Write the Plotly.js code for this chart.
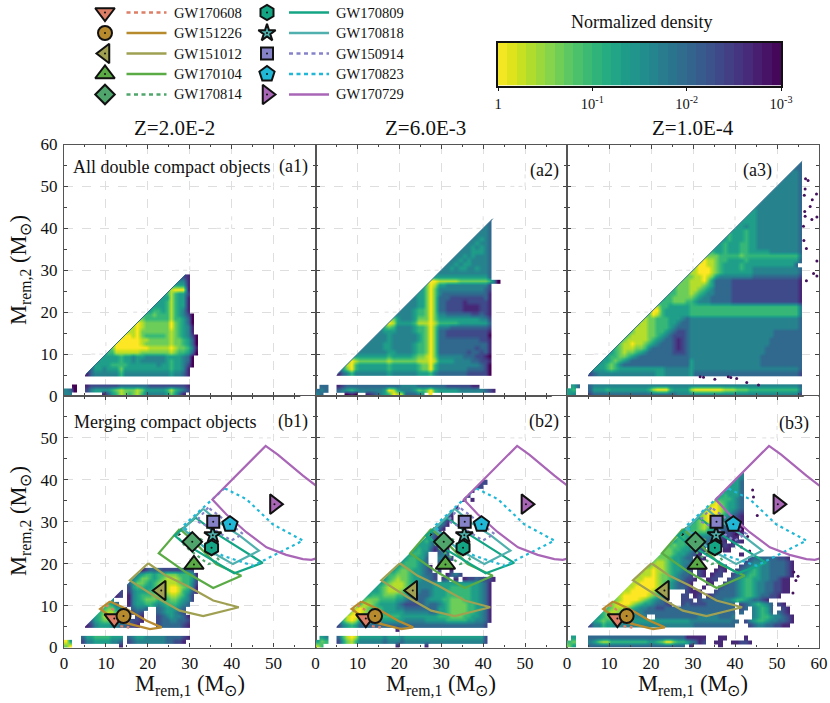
<!DOCTYPE html>
<html>
<head>
<meta charset="utf-8">
<script src="https://cdn.plot.ly/plotly-3.0.1.min.js"></script>
<style>html,body{margin:0;padding:0;background:#fff}</style>
</head>
<body>
<div id="chart" style="width:830px;height:703px"></div>
<script>
// density maps, top row first. each cell is 1 Msun wide, digit 0 (1e-3) .. 9 (1)
// "start:digits" per run, d{n} repeats a digit
const a1Rows = [
"27:121","26:4441","25:55551","24:689991","23:5686552","22:55586551","21:555686551","20:5555686551",
"19:55665686541","18:6667666865420","17:77666666866530","16:898777777976530","15:8898777777976541",
"14:88897777777876541","13:8998976666678765420","12:89999988777778776530","11:799999987777778776530",
"10:6799999999888889877641","9:56688888877777778766530","8:55555655455444445555430","7:455555655454444445655430",
"6:3555566665555555455655420","5:1355455575555555555565541","5:1344444464444444444454431","","",
"2:0 5:1222222233333332222222221","0:43 2:0 5:2455556787778755555686542","0:44 9:13568767864444457531"
];
const a2Rows = [
"41:1","40:33","39:343","38:4443","37:44443","36:444543","35:4445443","34:44454543","33:444455543",
"32:4445454443","31:44454544443","30:444545544443","29:4445455445443","28:54444444444443","26:5755555555555553",
"25:5899888887777777640","24:457985544444444442","23:4557974444444444432","22:45557974333333333331",
"21:444557973332222222231","20:4444557973322221222221","19:44444557973322221111221","18:444445667973322221111221",
"17:5544445667974433333322321","16:78754445777975555555555442","15:689855556888986666655555553",
"14:4567644445667974443333333332","13:44455544445667973322222222221","12:444445444444567973322222222220",
"11:4444445444444567973333333333221","10:44444455444445667973333333333331","9:444444455444445667973333333332331",
"8:4444444445544445667973333333233231","7:46555555556555556778974444443332210","6:479877777778777777888985555444433221",
"5:3589655555556555555677964444444444320","5:2579655555556555555677964444444333320","5:1346444444445444444555643333333222220","","",
"1:33 5:1233333333333334444333333322222211","0:3 1:43 5:34565444444598544457679655555444444321","0:4 1:3 7:010 12:123456988 21:33345 27:9"
];
const a3Rows = [
"54:33","53:333","52:3443","51:34443","50:444443","49:4{6}3","48:4{7}3","47:4{8}3","46:4{9}3","45:4{10}3","44:4{11}3",
"43:554{10}3","42:5554{10}3","41:55554{10}3","40:55555 45:4{10}3","39:555455 45:4{10}3","38:6555655 45:4{10}3",
"37:56555655 45:4{10}3","36:556555655 45:4{10}3","35:5565556655 45:4{10}3","34:55565556655 45:4{10}3",
"33:6655655566555{3}4{7}3","32:87776666676{13}4","31:89887665555655{11}3","30:89988765555655{11}3",
"29:7899987655556554{11}3","28:78899987655555554{11}3","27:77788987 35:54{8}3{11}2","26:777888975 35:3{4}2{16}1",
"25:6777888765 35:3{4}2{16}1","24:66777887654 35:3{4}2{16}1","23:666777876544 35:3{4}2{16}1","22:5667777765443 35:3{4}2{16}1",
"21:56667776654443 35:3{4}2{16}1","20:9866 24:5{5}6{26}4","19:79965{6}6{26}4","18:77986 23:5{6}6{26}4",
"17:787766655543 29:4{26}3","16:7887766655433 29:4{26}3","15:78887766654333 29:4{26}3","14:678887766543223 29:4{20}3{7}",
"13:6788887765432223 29:4{20}3{7}","12:67888887654332123 29:4{19}3{8}","11:678898876543332123 29:4{19}3{8}",
"10:5678887764333332123 29:4{18}3{9}","9:55678776543333332223 29:4{18}3{9}","8:556677654 17:3{12}4{17}3{10}",
"7:455676543 16:3{13}54{16}3{10}","6:4556764 13:3{16}54{16}3{10}","5:355567655 14:5{9}4{6}54{25}3",
"5:234{14}5{2}4{6}53{25}2","","","1:53 5:34{49}3",
"0:56 5:3555655555555568999655555 29:8999999988877 42:76{12}4","0:54 5:23{20}4{4} 30:4{25}2"
];
const b1Rows = [
"18:1233322222332","16:3456656677766651","15:34577656788876652","15:35776567888876642","15:25665567789987641",
"12:12 15:24555667789986531","12:12 15:1456667777887642","10:44 15:1456777666776542","9:5653 15:145566545666543",
"8:5677542 16:3443 22:3455543","7:56788653 16:232 22:3455432","6:4568876542 17:21 22:23454431",
"5:23567766543221 22:23344332","5:1245554433221 22:23333321","","",
"4:3556666555 15:345544444333321","0:95 4:2445555443 15:23444444433221","0:79 13:1"
];
const b2Rows = [
"38:122","37:122","36:21","35:12","34:21 37:1","33:2","32:21","31:32","30:431","29:4321","28:4431","27:5431","26:5531",
"25:55421 30:1","24:556421 30:21","23:5555421 29:231","22:5565531 29:341","21:556654 29:343","20:4566553 29:4432",
"19:45666543 29:343","18:5566665431 29:32","17:55677655432 29:2 32:1","16:5667776554332 31:1 32:342",
"15:55678776554432 30:23 33:1 35:12232221","14:5567888765444455555555555431","13:55678888765444455556666655431",
"12:555678887654433455566666655431","11:5566677766544333455566666655431","10:56777666655433334555667776655431",
"9:568876555543222234334567777665431","8:5898766655544333333335567777665531","7:58998766655555444444335567777665431",
"6:489986666666665555555556667776655431","5:368985{11}4{5}5{5}6{5}554431","5:245653{30}2","19:1","",
"1:54 5:368985{6}45{3}45{19}2","0:576 5:257864{6}34{3}34{19}2","0:86 19:1 26:1"
];
const b3Rows = [
"40:34","39:354","38:4553","37:45553","36:455553","35:5565553","34:65666543","33:789765543","32:8899865543","31:78999865432",
"30:678999754321","29:5678987543321","28:56678865433221","27:556678654332210","26:5566766543322111","25:6665554443322211",
"24:65665554433221 39:121","23:767665544332 36:121 39:2","22:77766554332 34:21 37:11","21:67776554321 33:1 41:1",
"20:6777655433 31:21 43:2333333221","19:678876554432 42:234444333321","18:77888765543221 36:11 41:2345544333321",
"17:7889887655432 31:21 35:121 40:23456544333321","16:78889877654332 31:21 34:122 39:234566544333321",
"15:7889998776543221 33:122 38:234566554433211","14:7889999876543221 33:11 37:2334566544332211",
"13:78899999876543321 32:1 36:23334566544332211","12:788999998765 28:211 31:1 35:233334566544332211",
"11:7899999987654 27:22 30:12 33:123333345665433221","10:67899998765432 27:222 31:23333344566543321",
"9:6789998765543321 27:2322223333333 41:23456543 50:21","8:5678887654433 21:2{2}3{17} 41:23 44:45653 51:21",
"7:56788765444333 21:3{19} 41:3 44:45653 50:321","6:4567876555444 21:3{10}4{5} 36:3334 44:456654 50:4321",
"5:35676665555555 19:5{10}4{5} 34:4444433 42:2 43:45665443321","5:2446554444444 18:4{12} 30:3{10} 43:2344332211","","",
"1:5 5:3{23} 28:1{5} 36:11 42:1","0:67 5:4578866666666655679976654 30:3 31:12 35:11 39:11221","0:75 5:3{23} 29:1 36:1"
];

const a3DotsX = [56.7,56.5,59.4,58.4,57.9,56.7,58.3,59.5,56.3,57,59.5,58.7,59.5,57,56.4,56.8,57.4,56.6,31.7,35.2,38.4,40.4,42.8,45.6,32.5,39];
const a3DotsY = [49.4,47.9,48.2,46.8,45.2,42.9,42.1,42.7,40.5,35.2,32.2,29.2,28.6,27.5,37.1,51.8,51.4,44,4.6,4,4.6,4.2,3.2,2.6,4.5,4.4];
const b3DotsX = [44.2,44.4,45.3,40.3,43,54,54.5,55,53.8,41.5,43.5];
const b3DotsY = [37.6,35.9,31.5,27,26.5,18,16,17,13,24,23];
const mergerSpecksX = [27.4,28.2];
const mergerSpecksY = [27,28.2];
const diagEndsTop = [29, 42.3, 56];

const panelLabels = ['(a1)','(a2)','(a3)','(b1)','(b2)','(b3)'];
const metallicities = ['Z=2.0E-2','Z=6.0E-3','Z=1.0E-4'];
const topRowTicks = [0,10,20,30,40,50,60];
const otherTicks = [0,10,20,30,40,50];

// gravitational wave events
const eventNames = ['GW170608','GW151226','GW151012','GW170104','GW170814','GW170809','GW170818','GW150914','GW170823','GW170729'];
const eventM1 = [12,14.2,23.2,31,30.6,35.2,35.5,35.6,39.6,50.2];
const eventM2 = [6.9,7.5,13.6,19.8,25.2,23.8,26.8,30,29.4,34.2];
const eventColors = ['#dd7f66','#b88a2e','#9fa052','#5aab45','#4fa56b','#14a585','#4fb0ad','#8582c8','#20b8d6','#a966b6'];
const eventSymbols = ['triangle-down','circle','triangle-left','triangle-up','diamond','hexagon','star','square','pentagon','triangle-right'];
const eventSizes = [17,14,17,17,15,15,13,12,16,17];
const eventDotted = [true,false,false,false,true,false,false,true,true,false];

// 90% regions
const regionX = [
  [8.9,10.5,12.8,15.3,15.5,13,10.5,8.9],
  [11,8.6,12.5,17.3,20.5,23.3,19.7,14.9,11],
  [20.1,15.7,22,27.6,33.2,41.7,35.6,29.2,24.4,20.1],
  [27.6,22.6,29,35.6,42.3,36.3,30.8,27.6],
  [28.4,26.8,29.2,34.4,37.1,33.2,28.4],
  [31.4,26.4,28.4,35.6,40.6,47.4,42.7,37.1,31.4],
  [33.2,28.4,34,40.3,46.5,41.9,37.1,33.2],
  [34.4,31.6,35.6,39.9,42.7,34.4],
  [38.3,28.4,32.4,37.9,45.1,57,49.8,43.5,38.3],
  [61.2,60,57,54,51,48.1,35.4,38.7,43.5,48.3,53,57,59,61]
];
const regionY = [
  [9.1,7,5.2,4.8,6,8,10,9.1],
  [11,9.2,6.4,5.2,4.4,4.8,6.4,9.2,11],
  [20.1,16,12,8.8,7.5,9.6,11.2,14.8,17.1,20.1],
  [28.3,22.5,18,14.2,17.1,19.9,25.5,28.3],
  [28.3,26.7,23.9,19.9,20.7,25.5,28.3],
  [31,26.7,25,20.7,17.7,20.2,23.1,26.7,31],
  [33.1,28.3,23.5,19.9,23.1,26.7,29.8,33.1],
  [33.4,30.2,28.3,25.5,27.1,33.4],
  [38,29,24.7,21.9,19.5,25.5,29.4,35.4,38],
  [38,38.7,41,43.5,46,48.1,35.3,31.8,27.5,23.9,22.1,21.1,20.9,21.5]
];

const cbLevels = [-0.05,-0.15,-0.25,-0.35,-0.45,-0.55,-0.65,-0.75,-0.85,-0.95,-1.05,-1.15,-1.25,-1.35,-1.45,-1.55,-1.65,-1.75,-1.85,-1.95,-2.05,-2.15,-2.25,-2.35,-2.45,-2.55,-2.65,-2.75,-2.85,-2.95];
const cbTickVals = [0,-1,-2,-3];
const cbTickText = ['1','10<sup>-1</sup>','10<sup>-2</sup>','10<sup>-3</sup>'];

const serif = '"Liberation Serif","Times New Roman",serif';
const W = 830, H = 703;
const binCenters = Array.from({length:62}, (_, i) => i + 0.5);

function decodeRows(rows) {
    const z = [];
    const top = rows.length - 1;
    rows.forEach((row, k) => {
        const cells = new Array(62).fill(null);
        row.split(' ').filter(Boolean).forEach(seg => {
            const parts = seg.split(':');
            const digits = parts[1].replace(/(\d)\{(\d+)\}/g, (m, d, n) => d.repeat(+n));
            for (let i = 0; i < digits.length; i++) cells[+parts[0] + i] = +digits[i];
        });
        z[top - k] = cells;
    });
    return z;
}

let traces = [];
let layout = {
    width: W, height: H,
    margin: {l:0, r:0, t:0, b:0},
    paper_bgcolor: '#fff',
    plot_bgcolor: 'rgba(0,0,0,0)',
    showlegend: false,
    font: {family: serif, color: '#111'},
    annotations: []
};

function note(x, y, text, size, extra) {
    layout.annotations.push(Object.assign({
        xref:'paper', yref:'paper', x:x/W, y:1-y/H, text:text, showarrow:false,
        font:{family:serif, size:size, color:'#111'}, xanchor:'center', yanchor:'middle'
    }, extra || {}));
}

const panelXpx = [[64,315.5],[315.5,567],[567,819]];
const panelYpx = [[144.5,396],[396,647.5]];
const allRows = [a1Rows,a2Rows,a3Rows,b1Rows,b2Rows,b3Rows];

allRows.forEach((rows, p) => {
    const col = p % 3, row = Math.floor(p / 3);
    const id = p === 0 ? '' : String(p + 1);
    const xr = 'x' + id, yr = 'y' + id;
    const axisBase = {
        range:[0,60],
        showgrid:true, gridcolor:'#dedede', griddash:'dash', gridwidth:1, zeroline:false,
        showline:true, linecolor:'#555', linewidth:1.2, mirror:'allticks',
        ticks:'inside', ticklen:4, tickwidth:1, tickcolor:'#444',
        minor:{tickvals:[5,15,25,35,45,55], ticks:'inside', ticklen:2.5, tickwidth:1, tickcolor:'#444', showgrid:false},
        tickfont:{family:serif, size:17, color:'#111'}
    };
    layout['xaxis' + id] = Object.assign({}, axisBase, {
        domain:[panelXpx[col][0]/W, panelXpx[col][1]/W], anchor:yr,
        tickvals: col === 2 ? topRowTicks : otherTicks,
        showticklabels: row === 1
    });
    layout['yaxis' + id] = Object.assign({}, axisBase, {
        domain:[1-panelYpx[row][1]/H, 1-panelYpx[row][0]/H], anchor:xr,
        tickvals: row === 0 ? topRowTicks : otherTicks,
        ticklabelstandoff:2,
        showticklabels: col === 0
    });

    const z = decodeRows(rows);
    traces.push({
        type:'heatmap', x:binCenters, y:z.map((r, j) => j + 0.5), z:z,
        zmin:0, zmax:9, colorscale:'Viridis', showscale:false, zsmooth:'best',
        hoverinfo:'skip', xaxis:xr, yaxis:yr
    });

    // keeps the m1=m2 edge sharp, nothing lies above it
    traces.push({
        type:'scatter', mode:'lines', x:[3,60,56.5,3,3], y:[3,60,60,6.5,3],
        fill:'toself', fillcolor:'#fff', line:{width:0}, hoverinfo:'skip', xaxis:xr, yaxis:yr
    });
    const gx = [], gy = [];
    [10,20,30,40,50].forEach(t => {
        gx.push(t, t, null, t-3.5, t, null);
        gy.push(t, t+3.5, null, t, t, null);
    });
    traces.push({
        type:'scatter', mode:'lines', x:gx, y:gy, line:{color:'#dedede', width:1, dash:'4px,4px'},
        hoverinfo:'skip', xaxis:xr, yaxis:yr
    });

    if (row === 0) {
        traces.push({
            type:'scatter', mode:'lines', x:[5.2,diagEndsTop[col]], y:[5.2,diagEndsTop[col]],
            line:{color:'#2b6a8d', width:1}, hoverinfo:'skip', xaxis:xr, yaxis:yr
        });
    }
    if (p === 2) {
        traces.push({type:'scatter', mode:'markers', x:a3DotsX, y:a3DotsY,
            marker:{color:'#44115c', size:3}, hoverinfo:'skip', xaxis:xr, yaxis:yr});
    }
    if (p === 5) {
        traces.push({type:'scatter', mode:'markers', x:b3DotsX, y:b3DotsY,
            marker:{color:'#44115c', size:3}, hoverinfo:'skip', xaxis:xr, yaxis:yr});
    }
    if (row === 1) {
        traces.push({type:'scatter', mode:'markers', x:mergerSpecksX, y:mergerSpecksY,
            marker:{color:'#111', size:3, symbol:'cross'}, hoverinfo:'skip', xaxis:xr, yaxis:yr});
        eventNames.forEach((n, e) => {
            traces.push({
                type:'scatter', mode:'lines', x:regionX[e], y:regionY[e], cliponaxis:false,
                line:{color:eventColors[e], width:2.2, dash:eventDotted[e] ? '3px,3.5px' : 'solid'},
                hoverinfo:'skip', xaxis:xr, yaxis:yr
            });
        });
        eventNames.forEach((n, e) => {
            traces.push({
                type:'scatter', mode:'markers', x:[eventM1[e]], y:[eventM2[e]], name:n,
                marker:{symbol:eventSymbols[e], size:eventSizes[e], color:eventColors[e], line:{color:'#111', width:2}},
                hoverinfo:'skip', xaxis:xr, yaxis:yr
            });
        });
        traces.push({
            type:'scatter', mode:'markers', x:eventM1, y:eventM2,
            marker:{color:'#111', size:2}, hoverinfo:'skip', xaxis:xr, yaxis:yr
        });
    }
});

// legend block, drawn on a pixel-sized overlay
layout.xaxis7 = {domain:[0,1], range:[0,W], visible:false, anchor:'y7', fixedrange:true};
layout.yaxis7 = {domain:[0,1], range:[H,0], visible:false, anchor:'x7', fixedrange:true};
eventNames.forEach((n, e) => {
    const c = e < 5 ? 0 : 1;
    const yRow = 12.5 + (e % 5) * 20.5;
    const mx = c ? 267 : 105, lx = c ? 289 : 126.5, tx = c ? 333.5 : 171.5;
    traces.push({
        type:'scatter', mode:'lines', x:[lx, lx + 40], y:[yRow, yRow],
        line:{color:eventColors[e], width:2.4, dash:eventDotted[e] ? '4px,3.5px' : 'solid'},
        hoverinfo:'skip', xaxis:'x7', yaxis:'y7'
    });
    traces.push({
        type:'scatter', mode:'markers', x:[mx], y:[yRow],
        marker:{symbol:eventSymbols[e], size:eventSizes[e], color:eventColors[e], line:{color:'#111', width:2}},
        hoverinfo:'skip', xaxis:'x7', yaxis:'y7'
    });
    traces.push({
        type:'scatter', mode:'markers', x:[mx], y:[yRow],
        marker:{color:'#111', size:2}, hoverinfo:'skip', xaxis:'x7', yaxis:'y7'
    });
    note(tx, yRow, n, 14.5, {xanchor:'left'});
});

// colour bar
layout.xaxis8 = {
    domain:[498/W, 781/W], range:[0,-3], anchor:'y8', tickvals:cbTickVals, ticktext:cbTickText,
    ticks:'outside', ticklen:4, tickcolor:'#111', tickwidth:1, showgrid:false, zeroline:false,
    showline:true, linecolor:'#111', linewidth:1.5, mirror:true,
    tickfont:{family:serif, size:14.5, color:'#111'}
};
layout.yaxis8 = {
    domain:[1-85.5/H, 1-42.5/H], range:[0,1], anchor:'x8', showticklabels:false, ticks:'',
    showgrid:false, zeroline:false, showline:true, linecolor:'#111', linewidth:1.5, mirror:true
};
traces.push({
    type:'heatmap', x:cbLevels, y:[0.5], z:[cbLevels], zmin:-3, zmax:0, colorscale:'Viridis',
    showscale:false, hoverinfo:'skip', xaxis:'x8', yaxis:'y8'
});

note(641, 22, 'Normalized density', 18);
note(174, 128, metallicities[0], 21);
note(425, 128, metallicities[1], 21);
note(693, 128, metallicities[2], 21);
note(70.5, 167, 'All double compact objects', 18, {xanchor:'left'});
note(71.5, 422, 'Merging compact objects', 18, {xanchor:'left'});
const labelX = [293,544,757,293,544,794];
const labelY = [167,170,171,421,421,423];
panelLabels.forEach((t, i) => note(labelX[i], labelY[i], t, 18));

const m1Title = 'M<sub>rem,1</sub> (M<sub>\u2299</sub>)';
const m2Title = 'M<sub>rem,2</sub> (M<sub>\u2299</sub>)';
[190,441,693].forEach(x => note(x, 685, m1Title, 22.5));
note(20, 270, m2Title, 22.5, {textangle:-90});
note(20, 521, m2Title, 22.5, {textangle:-90});

Plotly.newPlot('chart', traces, layout, {displayModeBar:false, responsive:false});
</script>
</body>
</html>
